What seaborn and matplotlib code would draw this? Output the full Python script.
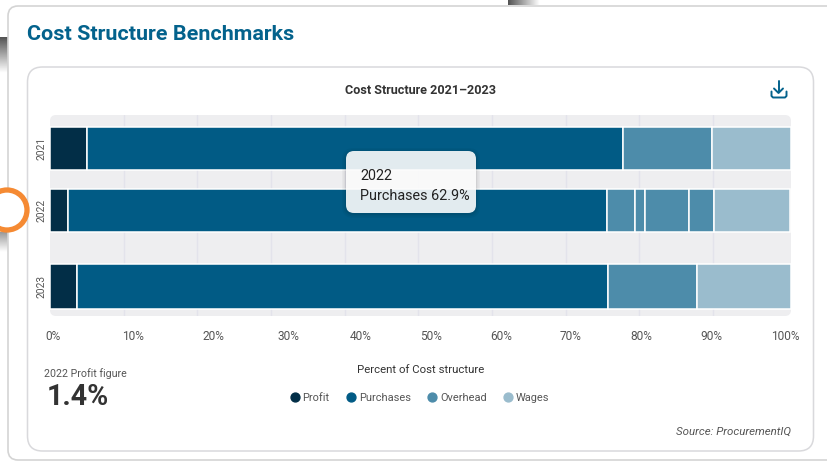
import numpy as np
import pandas as pd
import seaborn as sns
import matplotlib.pyplot as plt
from matplotlib.lines import Line2D
from matplotlib.patches import Circle, FancyBboxPatch

W, H = 827, 461

years = ["2021", "2022", "2023"]
series = ["Profit", "Purchases", "Overhead", "Wages"]
profit = [5.0, 2.4, 3.6]
purchases = [72.8, 73.2, 72.2]
overhead = [[12.1], [3.8, 1.4, 5.9, 3.5], [12.0]]
wages = [10.7, 10.3, 12.8]
pct_ticks = [10, 20, 30, 40, 50, 60, 70, 80, 90]
pct_labels = ["0%", "10%", "20%", "30%", "40%", "50%", "60%", "70%", "80%", "90%", "100%"]

colors = {"Profit": "#022E47", "Purchases": "#015B85", "Overhead": "#4D8CAA", "Wages": "#9ABCCD"}
BLUE = "#03628C"
DARK = "#333333"

# pixel layout
row_center = [148, 210, 286.5]
row_height = [43, 43, 45]
pct_label_x = [53, 133, 213, 288, 361, 431, 501, 571, 641, 711, 785]

sns.set_theme(style="white")
plt.rcParams["font.family"] = ["Roboto", "DejaVu Sans"]

fig = plt.figure(figsize=(W / 100, H / 100), dpi=100, facecolor="white")


def pixel_axes(z):
    a = fig.add_axes([0, 0, 1, 1], zorder=z)
    a.set_xlim(0, W)
    a.set_ylim(H, 0)
    a.axis("off")
    a.patch.set_alpha(0)
    return a


def rounded(a, x0, y0, x1, y1, r, **kw):
    a.add_patch(FancyBboxPatch((x0, y0), x1 - x0, y1 - y0,
                               boxstyle=f"round,pad=0,rounding_size={r}", **kw))


def fade(a, extent, horizontal=False, dark=0.33):
    ramp = np.linspace(dark, 1, 40)
    ramp = ramp[None, :] if horizontal else ramp[:, None]
    a.imshow(ramp, cmap="gray", vmin=0, vmax=1, extent=extent, aspect="auto", zorder=0.5)


back = pixel_axes(0)
# page bits that show behind the outer card
fade(back, (0, 7.5, 73, 37))
fade(back, (0, 7.5, 252, 232), dark=0.6)
fade(back, (508, 540, 5, 0), horizontal=True)
back.set_xlim(0, W)
back.set_ylim(H, 0)

rounded(back, 8, 6, 840, 460, 10, fc="white", ec="#D4D4D4", lw=1.2, zorder=1)
rounded(back, 27.5, 67, 813.5, 451, 15, fc="white", ec="#D9D9DC", lw=1.1, zorder=2)
rounded(back, 50, 115, 791, 316, 6, fc="#EEEEF0", ec="none", zorder=3)

back.text(27, 34.5, "Cost Structure Benchmarks", color=BLUE, fontsize=15.45, fontweight="bold", va="center", zorder=4)
back.text(420.5, 90, "Cost Structure 2021–2023", color=DARK, fontsize=9.1, fontweight="bold", ha="center", va="center", zorder=4)
back.text(421, 369.5, "Percent of Cost structure", color=DARK, fontsize=8.2, ha="center", va="center", zorder=4)
back.text(44.5, 373.5, "2022 Profit figure", color="#555555", fontsize=7.7, va="center", zorder=4)
back.text(47, 396.5, "1.4%", color=DARK, fontsize=20.6, fontweight="bold", va="center", zorder=4)
back.text(791, 431.5, "Source: ProcurementIQ", color="#555555", fontsize=8.25, style="italic", ha="right", va="center", zorder=4)
for label, px in zip(pct_labels, pct_label_x):
    back.text(px, 336, label, color="#555555", fontsize=8.6, ha="center", va="center", zorder=4)

# download icon
icon = dict(color=BLUE, lw=1.4, solid_capstyle="round", solid_joinstyle="round", zorder=4)
back.plot([778.5, 778.5], [81.5, 92.5], **icon)
back.plot([774, 778.5, 783], [88.5, 93, 88.5], **icon)
back.plot([771.5, 771.5, 773, 785, 786.5, 786.5], [91.5, 96, 97.5, 97.5, 96, 91.5], **icon)

# chart
ax = fig.add_axes([50 / W, 1 - 316 / H, 741 / W, 201 / H], zorder=1)
ax.patch.set_alpha(0)

for i, year in enumerate(years):
    parts = [("Profit", profit[i]), ("Purchases", purchases[i])]
    parts += [("Overhead", v) for v in overhead[i]]
    parts += [("Wages", wages[i])]
    left = 0
    for name, value in parts:
        seg = pd.DataFrame({"pct": [value], "row": [row_center[i]]})
        sns.barplot(data=seg, x="pct", y="row", orient="y", native_scale=True, ax=ax,
                    left=left, width=row_height[i], color=colors[name], saturation=1,
                    errorbar=None, edgecolor="white", linewidth=1.1, zorder=3)
        left += value

ax.set_xlim(0, 741 / 7.365)
ax.set_ylim(316, 115)
ax.set_xticks(pct_ticks)
ax.set_xticklabels([])
ax.set_yticks(row_center)
ax.set_yticklabels(years, rotation=90, va="center", fontsize=7.4, color="#555555")
ax.tick_params(axis="y", length=0, pad=2.8)
ax.tick_params(axis="x", length=0)
ax.set_xlabel("")
ax.set_ylabel("")
ax.xaxis.grid(True, color="#E3E3EB", lw=1)
ax.yaxis.grid(False)
ax.set_axisbelow(True)
sns.despine(ax=ax, left=True, bottom=True)

handles = [Line2D([], [], ls="", marker="o", ms=6.4, color=colors[s], label=s) for s in series]
leg = fig.legend(handles=handles, loc="center", bbox_to_anchor=(420.5 / W, 1 - 398 / H), ncol=4, frameon=False,
                 fontsize=7.95, handlelength=0.6, handletextpad=0.4, columnspacing=1.65, labelcolor="#555555")

# tooltip and the ring on top of everything
top = pixel_axes(5)
for grow, alpha in [(4, 0.03), (2.5, 0.04), (1, 0.05)]:
    rounded(top, 346 - grow, 151 - grow + 1, 476 + grow, 213 + grow + 1, 8 + grow, fc="black", ec="none", alpha=alpha)
rounded(top, 346, 151, 476, 213, 8, fc="white", ec="none", alpha=0.89)
top.text(360, 176, "2022", color="#222222", fontsize=10.4, va="center")
top.text(360, 196, "Purchases 62.9%", color="#222222", fontsize=10.4, va="center")
top.add_patch(Circle((7, 210), 20, fc="white", ec="#F58A33", lw=3.8))

fig.savefig("out.png", dpi=100)
